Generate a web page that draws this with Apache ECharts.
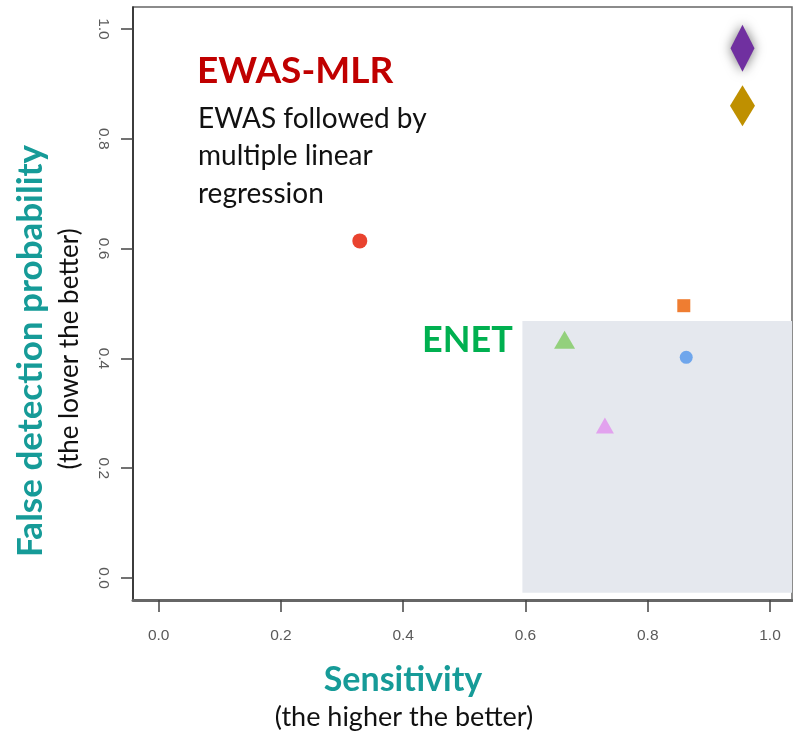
<!DOCTYPE html>
<html>
<head>
<meta charset="utf-8">
<script src="https://cdn.jsdelivr.net/npm/echarts@6/dist/echarts.min.js"></script>
<style>html,body{margin:0;padding:0;background:#fff;}#c{width:793px;height:744px;}</style>
</head>
<body>
<div id="c"></div>
<script>
// ---- data ----
var methods = ['EWAS-MLR', 'method B', 'method C', 'ENET (green)', 'ENET (violet)', 'method F', 'method G'];
var sensitivity = [0.329, 0.859, 0.863, 0.664, 0.730, 0.955, 0.955];
var falseDetection = [0.614, 0.496, 0.402, 0.434, 0.278, 0.965, 0.860];
var symbols = ['circle', 'rect', 'circle', 'triangle', 'triangle', 'diamond', 'diamond'];
var colors = ['#e9432f', '#ef7d31', '#6fa6ec', '#93d07c', '#e2a2ee', '#7030a0', '#bf9000'];
var tickValues = [0, 0.2, 0.4, 0.6, 0.8, 1.0];
var tickLabels = ['0.0', '0.2', '0.4', '0.6', '0.8', '1.0'];
var enetRegion = { xFrom: 0.595, xTo: 1.04, yFrom: -0.027, yTo: 0.468 };

var sizes = [15, 13, 13, [21, 18], [18, 16], [24, 47], [25, 41]];

var series = [{
  type: 'scatter', z: 1, data: [], silent: true,
  markArea: {
    silent: true,
    itemStyle: { color: '#e5e8ee' },
    data: [[{ coord: [enetRegion.xFrom, enetRegion.yFrom] }, { coord: [enetRegion.xTo, enetRegion.yTo] }]]
  }
}];
for (var i = 0; i < methods.length; i++) {
  var it = { color: colors[i], opacity: 1 };
  if (i === 5) { it.shadowBlur = 12; it.shadowColor = 'rgba(0,0,0,0.55)'; it.shadowOffsetX = 0; it.shadowOffsetY = 0; }
  series.push({
    type: 'scatter', name: methods[i], z: 3,
    symbol: symbols[i], symbolSize: sizes[i],
    itemStyle: it,
    data: [[sensitivity[i], falseDetection[i]]]
  });
}

function fmt(v) { return tickLabels[tickValues.indexOf(Math.round(v * 10) / 10)] || ''; }

var chart = echarts.init(document.getElementById('c'), null, { renderer: 'canvas' });
var tickFont = { color: '#5a5a5a', fontSize: 15.5, fontFamily: 'Liberation Sans, Arial' };
chart.setOption({
  animation: false,
  backgroundColor: '#fff',
  grid: { left: 133, top: 7, right: 1, bottom: 144, show: true, borderColor: '#666', borderWidth: 1.5, backgroundColor: 'transparent' },
  xAxis: {
    type: 'value', min: -0.042, max: 1.036,
    splitLine: { show: false },
    axisLine: { show: true, onZero: false, lineStyle: { color: '#666', width: 3 } },
    axisTick: { show: true, customValues: tickValues, length: 12, lineStyle: { color: '#444', width: 1.5 } },
    axisLabel: Object.assign({ customValues: tickValues, margin: 28, formatter: fmt }, tickFont)
  },
  yAxis: {
    type: 'value', min: -0.04, max: 1.04,
    splitLine: { show: false },
    axisLine: { show: true, onZero: false, lineStyle: { color: '#222', width: 1.5 } },
    axisTick: { show: true, customValues: tickValues, length: 12, lineStyle: { color: '#444', width: 1.5 } },
    axisLabel: Object.assign({ customValues: tickValues, margin: 22, rotate: -90, formatter: fmt }, tickFont)
  },
  series: series,
  graphic: [
    { type: 'text', left: 197, top: 53, style: { text: 'EWAS-MLR', fill: '#c00000', font: 'bold 37px Lato, "Open Sans", sans-serif' } },
    { type: 'text', left: 198, top: 100, style: { text: 'EWAS followed by\nmultiple linear\nregression', fill: '#111', font: '28px Lato, "Open Sans", sans-serif', lineHeight: 37.5 } },
    { type: 'text', left: 422, top: 322, style: { text: 'ENET', fill: '#00b050', font: 'bold 36px Lato, "Open Sans", sans-serif' } },
    { type: 'text', x: 31, y: 351, rotation: Math.PI / 2, style: { text: 'False detection probability', fill: '#169b98', font: 'bold 35px Lato, "Open Sans", sans-serif', align: 'center', verticalAlign: 'middle' } },
    { type: 'text', x: 70, y: 349, rotation: Math.PI / 2, style: { text: '(the lower the better)', fill: '#111', font: '26px Lato, "Open Sans", sans-serif', align: 'center', verticalAlign: 'middle' } },
    { type: 'text', x: 403, y: 680, style: { text: 'Sensitivity', fill: '#169b98', font: 'bold 34px Lato, "Open Sans", sans-serif', align: 'center', verticalAlign: 'middle' } },
    { type: 'text', x: 404, y: 717, style: { text: '(the higher the better)', fill: '#111', font: '27px Lato, "Open Sans", sans-serif', align: 'center', verticalAlign: 'middle' } }
  ]
});
</script>
</body>
</html>
